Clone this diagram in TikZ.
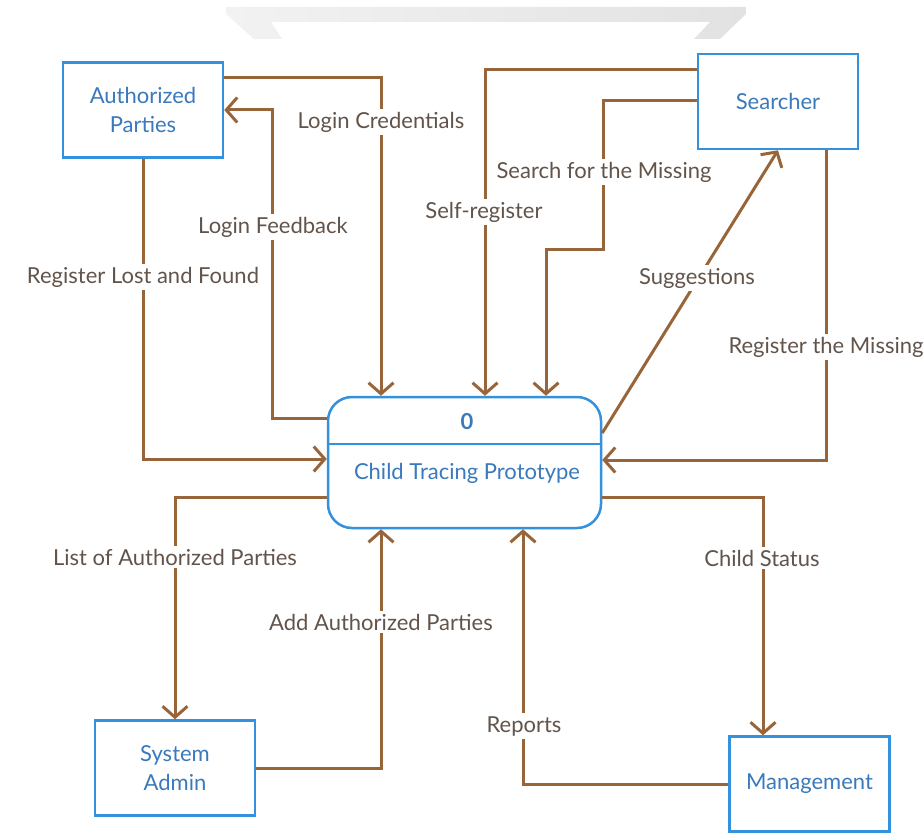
\documentclass[tikz,border=0pt]{standalone}
\usepackage{fontspec}
\setmainfont{Lato}
\usetikzlibrary{arrows.meta}
\definecolor{flowbrown}{RGB}{152,101,58}
\definecolor{boxblue}{RGB}{52,145,222}
\definecolor{nametext}{RGB}{58,122,188}
\definecolor{labeltext}{RGB}{98,84,74}
\definecolor{trayA}{RGB}{242,242,242}
\definecolor{trayB}{RGB}{226,226,226}
\tikzset{
  entity/.style={draw=boxblue, line width=2.5pt, fill=white, minimum width=160pt,
    minimum height=95pt, align=center, text=nametext, font=\fontsize{22}{29}\selectfont},
  process/.style={draw=boxblue, line width=2.5pt, fill=white, rounded corners=24pt,
    minimum width=273pt, minimum height=131pt},
  ptext/.style={text=nametext, font=\fontsize{22}{28}\selectfont},
  flow/.style={draw=flowbrown, line width=3pt,
    -{Straight Barb[length=11pt,width=25pt,line width=3pt]}},
  flowlabel/.style={fill=white, text=labeltext, inner sep=3pt,
    font=\fontsize{22}{26}\selectfont}
}
\begin{document}
\begin{tikzpicture}[x=1pt,y=-1pt]
\useasboundingbox (0,0) rectangle (923,840);

% grey tray at the top
\shade[left color=trayA, right color=trayB]
  (226,7) -- (746,7) -- (746,14) -- (720,39) -- (694,39) -- (710,22)
  -- (271,22) -- (282,39) -- (254,39) -- (226,14) -- cycle;

% external entities
\node[entity] (ap) at (143,110) {Authorized\\Parties};
\node[entity] (se) at (778,101.5) {Searcher};
\node[entity] (sa) at (175,768) {System\\Admin};
\node[entity] (mg) at (809.5,784) {Management};

% central process
\node[process] (cp) at (464.5,462.5) {};
\draw[boxblue, line width=2.5pt] (cp.west |- 0,444) -- (cp.east |- 0,444);
\node[ptext, font=\fontsize{22}{28}\selectfont\bfseries] (pid) at (467,422) {0};
\node[ptext] (pname) at (467,473) {Child Tracing Prototype};

% data flows
\draw[flow] (ap.east |- 0,78) -| (cp.north -| 381,0);
\draw[flow] (cp.west |- 0,418) -- (272,418) |- (ap.east);
\draw[flow] (ap.south) |- (cp.west |- 0,459);
\draw[flow] (se.west |- 0,70) -| (cp.north -| 485,0);
\draw[flow] (se.west |- 0,101) -| (603,249) -| (cp.north -| 546,0);
\draw[flow] (cp.east |- 0,433) -- (se.south);
\draw[flow] (se.south -| 826,0) |- (cp.east |- 0,460);
\draw[flow] (cp.west |- 0,497) -| (sa.north);
\draw[flow] (sa.east) -| (cp.south -| 381,0);
\draw[flow] (cp.east |- 0,497) -| (mg.north -| 763,0);
\draw[flow] (mg.west) -| (cp.south -| 523,0);

% flow labels
\node[flowlabel] (l1) at (381,122) {Login Credentials};
\node[flowlabel] (l2) at (273,227) {Login Feedback};
\node[flowlabel] (l3) at (143,277) {Register Lost and Found};
\node[flowlabel] (l4) at (484,212) {Self-register};
\node[flowlabel] (l5) at (604,172) {Search for the Missing};
\node[flowlabel] (l6) at (697,278) {Suggestions};
\node[flowlabel] (l7) at (826,347) {Register the Missing};
\node[flowlabel] (l8) at (175,557) {List of Authorized Parties};
\node[flowlabel] (l9) at (381,622) {Add Authorized Parties};
\node[flowlabel] (l10) at (762,558) {Child Status};
\node[flowlabel] (l11) at (524,726) {Reports};
\end{tikzpicture}
\end{document}
